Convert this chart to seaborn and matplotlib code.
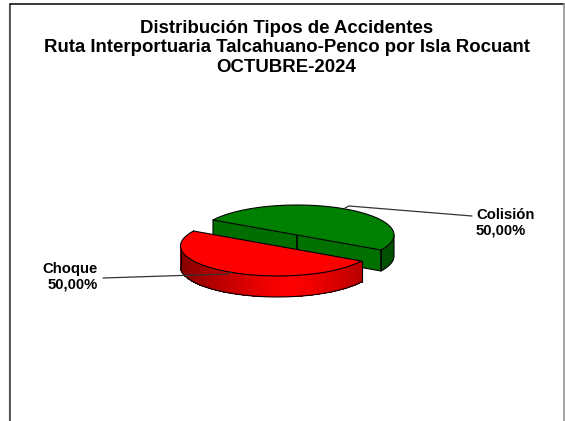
import numpy as np
import pandas as pd
import matplotlib
matplotlib.use('Agg')
from matplotlib import pyplot as plt
import seaborn as sns

categories = ['Colisión', 'Choque']
values = [50.0, 50.0]
labels = ['50,00%', '50,00%']
title_lines = ['Distribución Tipos de Accidentes',
               'Ruta Interportuaria Talcahuano-Penco por Isla Rocuant',
               'OCTUBRE-2024']

W, H = 565, 421
RX, RY, DEPTH = 97.0, 30.0, 21.0
START = -30.0


def to_data(px, py):
    """Pixel position in the picture to axis units, one unit being one radius."""
    return np.asarray(px) / RX, (H - np.asarray(py)) / RY


def rim(cx, cy, t0, t1, n=200):
    t = np.radians(np.linspace(t0, t1, n))
    return cx + RX * np.cos(t), cy - RY * np.sin(t)


def wall(ax, px, py, color, z):
    x0, y0 = to_data(px, py)
    x1, y1 = to_data(px, np.asarray(py) + DEPTH)
    ax.fill(np.r_[x0, x1[::-1]], np.r_[y0, y1[::-1]], color=color, lw=0, zorder=z)
    ax.plot(np.r_[x0[0], x1, x0[-1]], np.r_[y0[0], y1, y0[-1]], color='black', lw=0.8, zorder=z + 0.1)


sns.set_theme(style='white')
plt.rcParams['font.family'] = ['Liberation Sans', 'DejaVu Sans']
palette = sns.color_palette(['#008000', '#ff0000'])

fig = plt.figure(figsize=(W / 100, H / 100), dpi=100)
ax = fig.add_axes([0, 0, 1, 1])

# top faces, ax.pie on axes scaled so that the circle comes out as an ellipse
angles = np.cumsum([0] + values) / sum(values) * 360 + START
centers = [(297.0, 235.0), (277.5, 246.0)]

# green body: cut wall in two pieces, then the bit of rim on the right
gx, gy = centers[0]
ex, ey = rim(gx, gy, angles[0], angles[0], 1)
lx, ly = rim(gx, gy, angles[1], angles[1], 1)
wall(ax, [lx[0], gx], [ly[0], gy], '#006e00', 1)
wall(ax, [gx, ex[0]], [gy, ey[0]], '#007000', 1)
px, py = rim(gx, gy, angles[0], 0, 40)
wall(ax, px, py, '#005200', 1)

for i, (c, col) in enumerate(zip(centers, palette)):
    cx, cy = to_data(c[0], c[1])
    ax.pie([values[i], sum(values) - values[i]], startangle=angles[i], center=(cx, cy), radius=1,
           colors=[col, 'none'], frame=True,
           wedgeprops={'edgecolor': 'none', 'linewidth': 0, 'zorder': 2 + i * 2})
    px, py = rim(c[0], c[1], angles[i], angles[i + 1])
    ox, oy = to_data(np.r_[px, c[0], px[0]], np.r_[py, c[1], py[0]])
    ax.plot(ox, oy, color='black', lw=0.8, zorder=2.5 + i * 2)

# red rim with the shading running dark-bright-dark
rx, ry = centers[1]
px, py = rim(rx, ry, 180, 330, 200)
n = len(px)
for j in range(n - 1):
    shade = 1 - min(abs(px[j] - 290) / 110, 1) ** 1.3 * 0.48
    x0, y0 = to_data(px[j:j + 3], py[j:j + 3])
    x1, y1 = to_data(px[j:j + 3], py[j:j + 3] + DEPTH)
    ax.fill(np.r_[x0, x1[::-1]], np.r_[y0, y1[::-1]], color=(shade, 0, 0), lw=0,
            antialiased=False, zorder=3)
x1, y1 = to_data(px, py + DEPTH)
ax.plot(x1, y1, color='black', lw=0.8, zorder=3.2)
ex0, ey0 = to_data([px[0], px[0]], [py[0], py[0] + DEPTH])
ex1, ey1 = to_data([px[-1], px[-1]], [py[-1], py[-1] + DEPTH])
ax.plot(ex0, ey0, color='black', lw=0.8, zorder=3.2)
ax.plot(ex1, ey1, color='black', lw=0.8, zorder=3.2)

# leader lines
lx, ly = to_data([472, 349, 345], [216, 206, 208])
ax.plot(lx, ly, color='#333333', lw=0.9, zorder=6)
lx, ly = to_data([103, 227, 231], [278, 274, 272])
ax.plot(lx, ly, color='#333333', lw=0.9, zorder=6)

# frame, open at the bottom
fx, fy = to_data([9, 9], [H, 4])
ax.plot(fx, fy, color='#bbbbbb', lw=1.0, zorder=1)
fx, fy = to_data([10.2, 10.2], [H, 3.5])
ax.plot(fx, fy, color='#333333', lw=1.1, zorder=1)
fx, fy = to_data([10, 564], [3.5, 3.5])
ax.plot(fx, fy, color='black', lw=1.1, zorder=1)
fx, fy = to_data([564, 564], [3.5, H])
ax.plot(fx, fy, color='#8c8c8c', lw=1.1, zorder=1)

ax.set_aspect('auto')
ax.set_xlim(0, W / RX)
ax.set_ylim(0, H / RY)
ax.set_xticks([])
ax.set_yticks([])
ax.axis('off')

tx, ty = to_data(286.5, 48)
ax.text(tx, ty, '\n'.join(title_lines), ha='center', va='center', fontsize=13.4, fontweight='bold',
        color='black', linespacing=1.18)
tx, ty = to_data(476, 223)
ax.text(tx, ty, f'{categories[0]}\n{labels[0]}', ha='left', va='center', ma='left', fontsize=10.7,
        fontweight='bold', color='black', linespacing=1.15)
tx, ty = to_data(98, 276.5)
ax.text(tx, ty, f'{categories[1]}\n{labels[1]}', ha='right', va='center', ma='right', fontsize=10.7,
        fontweight='bold', color='black', linespacing=1.15)

fig.savefig('out.png', dpi=100)
